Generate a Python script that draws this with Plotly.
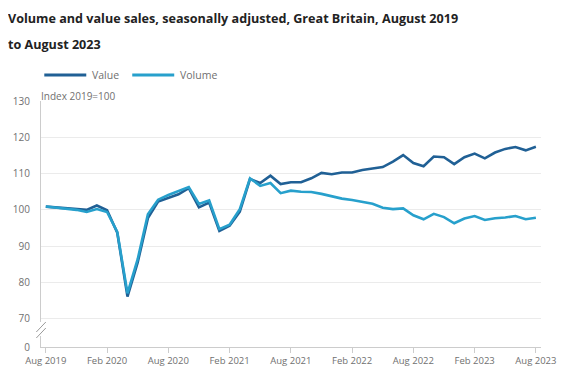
import plotly.graph_objects as go
import pandas as pd

months = [d.strftime("%b %Y") for d in pd.date_range("2019-08-01", "2023-08-01", freq="MS")]

value = [100.9, 100.7, 100.5, 100.2, 100.0, 101.2, 99.9, 93.7, 76.1, 85.5, 97.7, 102.3,
         103.2, 104.3, 106.0, 100.7, 102.0, 94.2, 95.6, 99.5, 108.5, 107.4, 109.4, 107.1,
         107.6, 107.6, 108.7, 110.2, 109.8, 110.3, 110.3, 111.0, 111.4, 111.8, 113.3, 115.1,
         112.9, 112.0, 114.7, 114.5, 112.6, 114.5, 115.5, 114.2, 115.8, 116.8, 117.3, 116.4,
         117.4]
volume = [100.9, 100.6, 100.4, 100.0, 99.4, 100.2, 99.4, 93.9, 77.0, 86.4, 98.8, 102.8,
          104.1, 105.3, 106.3, 101.6, 102.6, 94.7, 95.9, 100.2, 108.7, 106.6, 107.4, 104.6,
          105.3, 105.0, 104.9, 104.4, 103.7, 103.1, 102.7, 102.2, 101.7, 100.6, 100.2, 100.4,
          98.5, 97.4, 98.9, 98.0, 96.3, 97.6, 98.3, 97.2, 97.7, 97.9, 98.3, 97.4, 97.8]

series_names = ["Value", "Volume"]
series_colors = ["#206095", "#27a0cc"]

x_ticks = ["Aug 2019", "Feb 2020", "Aug 2020", "Feb 2021", "Aug 2021",
           "Feb 2022", "Aug 2022", "Feb 2023", "Aug 2023"]
y_tickvals = [62.2, 70, 80, 90, 100, 110, 120, 130]
y_ticktext = ["0", "70", "80", "90", "100", "110", "120", "130"]

title_lines = ["Volume and value sales, seasonally adjusted, Great Britain, August 2019",
               "to August 2023"]

FONT = "Open Sans"
GREY = "#707070"

fig = go.Figure()
for name, vals, col in zip(series_names, [value, volume], series_colors):
    fig.add_trace(go.Scatter(x=months, y=vals, name=name, mode="lines",
                             line=dict(color=col, width=2.6), showlegend=False))

# page body adds an 8px offset; the figure is sized so it fills the window
OFF = 8
W, H = 577 - OFF, 383 - OFF
PL, PR, PT, PB = 40.7, 541, 101, 347   # plot area edges in window pixels
L, R, T, B = PL - OFF, W - (PR - OFF), PT - OFF, H - (PB - OFF)

def px(xp):
    return (xp - PL) / (PR - PL)

def py(yp):
    return (PB - yp) / (PB - PT)

annotations = [
    dict(text="<b>" + title_lines[0] + "</b>", x=px(6), y=py(18), xref="paper", yref="paper",
         xanchor="left", yanchor="middle", showarrow=False,
         font=dict(family=FONT, size=12.6, color="#222222")),
    dict(text="<b>" + title_lines[1] + "</b>", x=px(6), y=py(44), xref="paper", yref="paper",
         xanchor="left", yanchor="middle", showarrow=False,
         font=dict(family=FONT, size=12.6, color="#222222")),
    dict(text="Index 2019=100", x=px(39), y=py(96), xref="paper", yref="paper",
         xanchor="left", yanchor="middle", showarrow=False,
         font=dict(family=FONT, size=10, color=GREY)),
]

shapes = [
    dict(type="line", xref="paper", yref="paper", x0=0, x1=0, y0=py(322), y1=py(336),
         line=dict(color="white", width=3)),
    dict(type="line", xref="paper", yref="paper", x0=px(36), x1=px(45.5), y0=py(332), y1=py(322),
         line=dict(color="#9a9a9a", width=1)),
    dict(type="line", xref="paper", yref="paper", x0=px(36), x1=px(45.5), y0=py(338), y1=py(328),
         line=dict(color="#9a9a9a", width=1)),
]

# legend drawn by hand (swatch length/spacing as in the original)
legend_x = [44, 132]
for lx, name, col in zip(legend_x, series_names, series_colors):
    shapes.append(dict(type="line", xref="paper", yref="paper", x0=px(lx), x1=px(lx + 42),
                       y0=py(75), y1=py(75), line=dict(color=col, width=3)))
    annotations.append(dict(text=name, x=px(lx + 46), y=py(75), xref="paper", yref="paper",
                            xanchor="left", yanchor="middle", showarrow=False,
                            font=dict(family=FONT, size=10.5, color=GREY)))

fig.update_layout(
    width=W, height=H,
    margin=dict(l=L, r=R, t=T, b=B, autoexpand=False),
    paper_bgcolor="white", plot_bgcolor="white",
    font=dict(family=FONT, size=11, color=GREY),
    showlegend=False,
    annotations=annotations,
    shapes=shapes,
    xaxis=dict(type="category", range=[-0.47, 48.5], tickmode="array", tickvals=x_ticks,
               ticktext=x_ticks, showgrid=False, showline=True, linecolor="#cccccc",
               linewidth=1, ticks="outside", ticklen=5, tickcolor="#cccccc",
               tickfont=dict(family=FONT, size=9.5, color=GREY), zeroline=False,
               automargin=False),
    yaxis=dict(range=[62.2, 130], tickmode="array", tickvals=y_tickvals, ticktext=y_ticktext,
               showgrid=True, gridcolor="#ebebeb", gridwidth=1, showline=True,
               linecolor="#cccccc", linewidth=1, ticks="", zeroline=False,
               tickfont=dict(family=FONT, size=10, color=GREY), ticklabelstandoff=8,
               automargin=False),
)

fig.write_html("out.html")
